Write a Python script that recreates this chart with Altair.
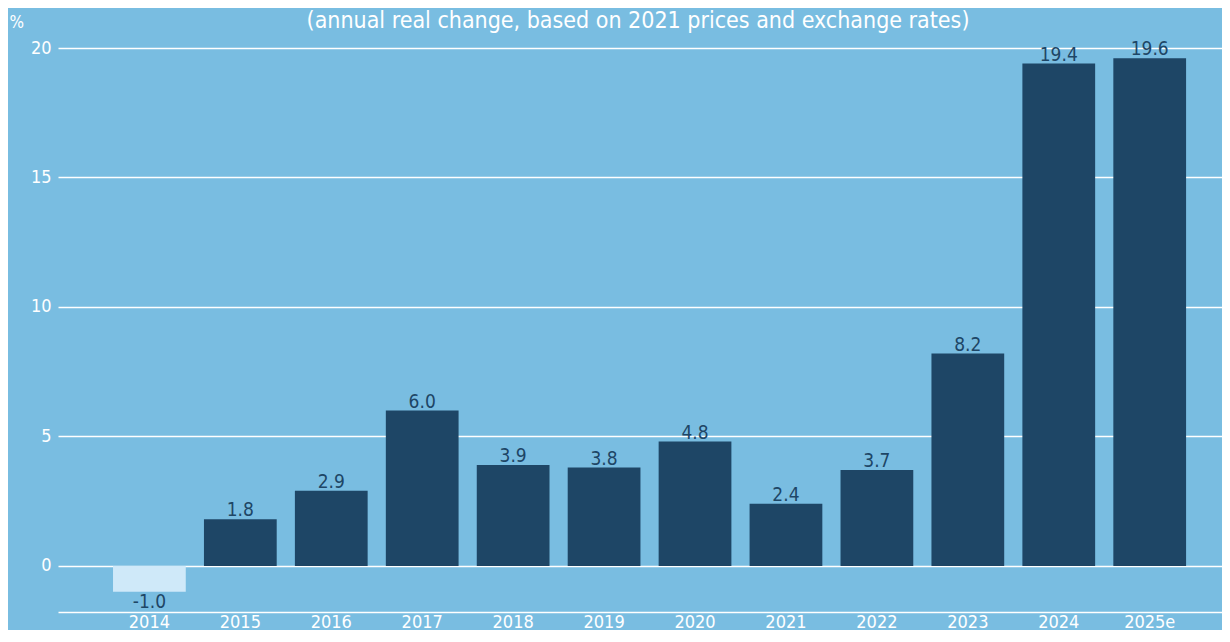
import altair as alt
import pandas as pd

years = ["2014", "2015", "2016", "2017", "2018", "2019", "2020", "2021", "2022", "2023", "2024", "2025e"]
values = [-1.0, 1.8, 2.9, 6.0, 3.9, 3.8, 4.8, 2.4, 3.7, 8.2, 19.4, 19.6]
y_ticks = [0, 5, 10, 15, 20]
subtitle = "(annual real change, based on 2021 prices and exchange rates)"

BG = "#79bde1"
BAR = "#1e4666"
NEG = "#cfe9f9"
FONT = "DejaVu Sans Condensed, sans-serif"

df = pd.DataFrame({"year": years, "value": values})
df["label"] = [f"{v:.1f}" for v in values]

x_enc = alt.X(
    "year:N",
    sort=years,
    scale=alt.Scale(paddingInner=0.2, paddingOuter=0.5, align=0.605),
    axis=alt.Axis(
        title=None, labelAngle=0, ticks=False, grid=False,
        domainColor="white", domainWidth=1.5,
        labelColor="white", labelFontSize=18, labelPadding=15,
        labelBaseline="alphabetic", labelFont=FONT,
    ),
)
y_enc = alt.Y(
    "value:Q",
    scale=alt.Scale(domain=[-1.78, 20], nice=False, zero=False),
    axis=alt.Axis(
        values=y_ticks, grid=True, gridColor="white", gridWidth=1.5,
        domain=False, ticks=False, labelColor="white", labelFontSize=18,
        labelPadding=7, labelFont=FONT,
        title="%", titleAngle=0, titleX=-49, titleY=-21, titleAlign="left",
        titleBaseline="alphabetic", titleColor="white", titleFontSize=17,
        titleFontWeight="normal", titleFont=FONT,
    ),
)

base = alt.Chart(df)

bars = base.mark_bar().encode(
    x=x_enc,
    y=y_enc,
    y2=alt.datum(0),
    color=alt.condition(alt.datum.value < 0, alt.value(NEG), alt.value(BAR)),
)

pos_labels = base.transform_filter(alt.datum.value >= 0).mark_text(
    baseline="alphabetic", dy=-3, fontSize=19, color=BAR, font=FONT
).encode(x=alt.X("year:N", sort=years), y="value:Q", text="label:N")

neg_labels = base.transform_filter(alt.datum.value < 0).mark_text(
    baseline="top", dy=1, fontSize=19, color=BAR, font=FONT
).encode(x=alt.X("year:N", sort=years), y="value:Q", text="label:N")

title = alt.Chart(pd.DataFrame({"t": [subtitle]})).mark_text(
    baseline="alphabetic", align="center", fontSize=23, color="white", font=FONT
).encode(text="t:N", x=alt.value(580), y=alt.value(-20))

chart = (
    alt.layer(bars, pos_labels, neg_labels, title)
    .properties(
        width=1164,
        height=564,
        background=BG,
        autosize=alt.AutoSizeParams(type="none"),
        padding={"left": 50, "right": 0, "top": 40, "bottom": 18},
    )
    .configure_view(stroke=None)
)

chart.save("out.html", embed_options={"renderer": "svg", "actions": False})
